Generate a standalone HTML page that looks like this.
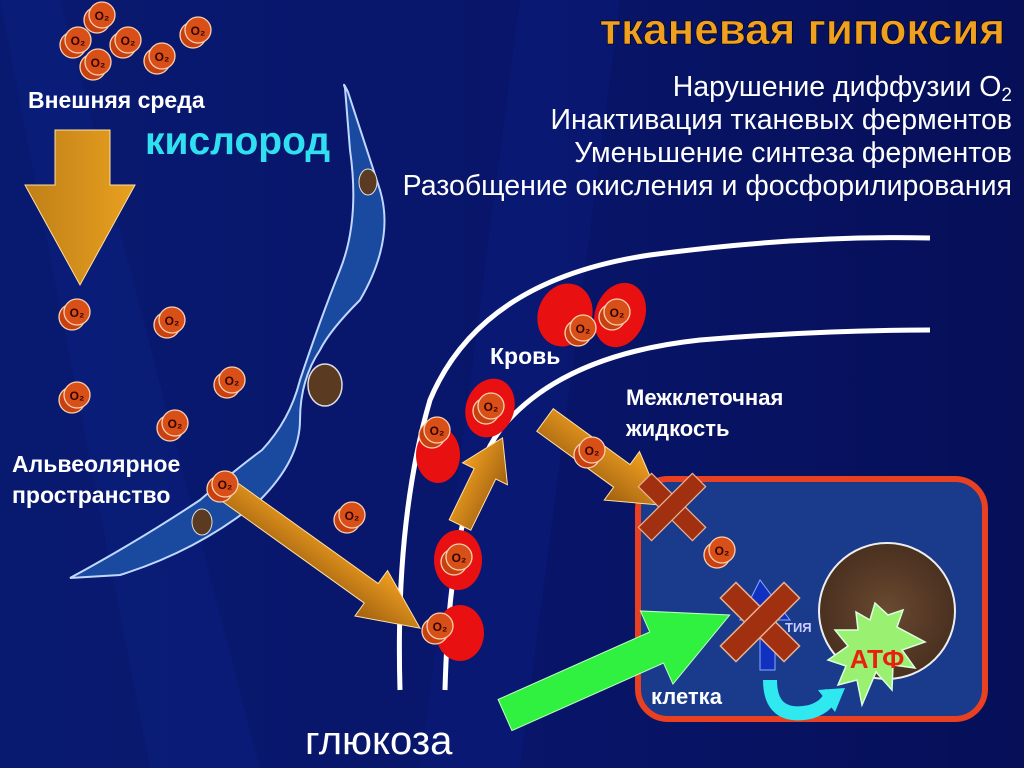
<!DOCTYPE html>
<html><head><meta charset="utf-8"><style>
html,body{margin:0;padding:0;width:1024px;height:768px;overflow:hidden;background:#05105a}
svg{display:block}
text{font-family:"Liberation Sans",sans-serif}
</style></head><body>
<svg width="1024" height="768" viewBox="0 0 1024 768" xmlns="http://www.w3.org/2000/svg">
<defs>
<linearGradient id="bg" x1="0" y1="0" x2="1" y2="0">
<stop offset="0" stop-color="#081a70"/><stop offset="0.5" stop-color="#08156a"/><stop offset="1" stop-color="#060f58"/></linearGradient>
<linearGradient id="og" x1="0" y1="0" x2="0" y2="1">
<stop offset="0" stop-color="#f0a020"/><stop offset="1" stop-color="#a06010"/></linearGradient>
<linearGradient id="ogx" x1="0" y1="0" x2="1" y2="0">
<stop offset="0" stop-color="#c08018"/><stop offset="1" stop-color="#e8a020"/></linearGradient>
<radialGradient id="mito" cx="0.5" cy="0.5" r="0.5">
<stop offset="0" stop-color="#6a4a30"/><stop offset="1" stop-color="#4a3020"/></radialGradient>
<g id="o2">
<circle cx="-5" cy="5" r="13" fill="#c84010" stroke="#f8d0b0" stroke-width="1.3"/>
<circle cx="0" cy="0" r="13" fill="#d85018" stroke="#f8d0b0" stroke-width="1.3"/>
<text x="0" y="5" font-size="12" font-weight="bold" text-anchor="middle" fill="#300">O₂</text>
</g>
<g id="cross">
<rect x="-45" y="-11" width="90" height="22" fill="#a03010" stroke="#e8b090" stroke-width="1.5"/>
<rect x="-11" y="-45" width="22" height="90" fill="#a03010" stroke="#e8b090" stroke-width="1.5"/>
<rect x="-10" y="-10" width="20" height="20" fill="#a03010"/>
</g>
</defs>
<rect width="1024" height="768" fill="url(#bg)"/>
<path d="M0 0 L60 0 L260 768 L150 768 Z" fill="#0c2288" opacity="0.35"/>
<path d="M520 0 L620 0 L520 768 L420 768 Z" fill="#0c2288" opacity="0.3"/>

<path d="M345 88 Q342 80 348 92 L380 190 Q395 240 360 300 Q330 330 320 350 Q300 380 300 420 Q300 460 260 500 Q200 550 120 575 L70 578 Q140 540 200 500 Q235 470 262 450 Q290 420 300 380 Q320 320 340 270 Q360 220 350 150 Z" fill="#1a4aa0" stroke="#c0d8ff" stroke-width="2"/>
<ellipse cx="368" cy="182" rx="9" ry="13" fill="#5a3a20" stroke="#ddd" stroke-width="1"/>
<ellipse cx="325" cy="385" rx="17" ry="21" fill="#5a3a20" stroke="#ddd" stroke-width="1.5"/>
<ellipse cx="202" cy="522" rx="10" ry="13" fill="#5a3a20" stroke="#ddd" stroke-width="1"/>

<path d="M400 690 Q395 520 430 400 Q480 280 650 255 Q800 235 930 238" fill="none" stroke="#fff" stroke-width="5"/>
<path d="M445 690 Q450 500 500 430 Q560 355 700 340 Q820 330 930 330" fill="none" stroke="#fff" stroke-width="5"/>

<ellipse cx="565" cy="315" rx="27" ry="32" fill="#e81010" transform="rotate(20 565 315)"/>
<ellipse cx="620" cy="315" rx="25" ry="33" fill="#e81010" transform="rotate(20 620 315)"/>
<ellipse cx="490" cy="408" rx="24" ry="30" fill="#e81010" transform="rotate(20 490 408)"/>
<ellipse cx="438" cy="455" rx="22" ry="28" fill="#e81010"/>
<ellipse cx="458" cy="560" rx="24" ry="30" fill="#e81010"/>
<ellipse cx="460" cy="633" rx="24" ry="28" fill="#e81010"/>

<rect x="638" y="479" width="347" height="240" rx="30" fill="#1a3a8c" stroke="#e84020" stroke-width="6"/>
<circle cx="887" cy="611" r="68" fill="url(#mito)" stroke="#eee" stroke-width="2"/>
<polygon points="875,603 888,615 903,610 897,627 925,642 902,650 915,668 893,665 892,690 876,672 862,705 857,680 838,685 846,666 828,660 848,646 835,630 858,630 856,612 870,620" fill="#9af070" stroke="#dfd" stroke-width="1.5"/>
<text x="877" y="668" font-size="26" font-weight="bold" fill="#e82010" text-anchor="middle">АТФ</text>
<polygon points="740,620 760,580 790,620 775,620 775,670 760,670 760,620" fill="#1030c0" stroke="#8af" stroke-width="1"/>
<text x="785" y="632" font-size="13" font-weight="bold" fill="#ccf">ТИЯ</text>
<use href="#cross" transform="translate(760 622) rotate(45)"/>
<path d="M770 680 Q770 720 810 712 Q830 706 832 690" fill="none" stroke="#30e8f0" stroke-width="14"/>
<polygon points="818,690 845,688 835,712" fill="#30e8f0"/>
<text x="651" y="704" font-size="22" font-weight="bold" fill="#fff">клетка</text>

<polygon points="55,130 110,130 110,185 135,185 80,285 25,185 55,185" fill="url(#ogx)" stroke="#ffe0a0" stroke-width="1"/>
<polygon points="0,-12 186,-12 186,-28 246,0 186,28 186,12 0,12" fill="url(#og)" stroke="#ffe0a0" transform="translate(220 485) rotate(35.6)"/>
<polygon points="0,-12 57,-12 57,-25 97,0 57,25 57,12 0,12" fill="url(#og)" stroke="#ffe0a0" transform="translate(460 525) rotate(-64)"/>
<polygon points="0,-14 95,-14 95,-30 145,0 95,30 95,14 0,14" fill="url(#og)" stroke="#ffe0a0" transform="translate(545 420) rotate(36)"/>
<polygon points="0,-17 166,-17 166,-40 246,0 166,40 166,17 0,17" fill="#30f040" stroke="#c0ffc0" transform="translate(505 715) rotate(-24)"/>
<use href="#cross" transform="translate(672 507) rotate(45) scale(0.85)"/>

<use href="#o2" x="102" y="15"/><use href="#o2" x="78" y="40"/><use href="#o2" x="128" y="40"/>
<use href="#o2" x="98" y="62"/><use href="#o2" x="162" y="56"/><use href="#o2" x="198" y="30"/>
<use href="#o2" x="77" y="312"/><use href="#o2" x="172" y="320"/><use href="#o2" x="77" y="395"/>
<use href="#o2" x="232" y="380"/><use href="#o2" x="175" y="423"/><use href="#o2" x="225" y="484"/>
<use href="#o2" x="352" y="515"/><use href="#o2" x="592" y="450"/><use href="#o2" x="722" y="550"/>
<use href="#o2" x="459" y="557"/><use href="#o2" x="440" y="626"/><use href="#o2" x="437" y="430"/>
<use href="#o2" x="491" y="406"/><use href="#o2" x="583" y="328"/><use href="#o2" x="617" y="312"/>

<text x="28" y="108" font-size="23" font-weight="bold" fill="#fff">Внешняя среда</text>
<text x="145" y="154" font-size="39" font-weight="bold" fill="#30e0f0">кислород</text>
<text x="1005" y="44" font-size="44" font-weight="bold" fill="#f0a020" stroke="#000" stroke-width="0.6" text-anchor="end">тканевая гипоксия</text>
<g font-size="28.5" fill="#fff" text-anchor="end">
<text x="1012" y="96">Нарушение диффузии O<tspan font-size="19" dy="5">2</tspan></text>
<text x="1012" y="129">Инактивация тканевых ферментов</text>
<text x="1012" y="162">Уменьшение синтеза ферментов</text>
<text x="1012" y="195">Разобщение окисления и фосфорилирования</text>
</g>
<text x="490" y="364" font-size="23" font-weight="bold" fill="#fff">Кровь</text>
<text x="626" y="405" font-size="22" font-weight="bold" fill="#fff">Межклеточная</text>
<text x="626" y="436" font-size="22" font-weight="bold" fill="#fff">жидкость</text>
<text x="12" y="472" font-size="23" font-weight="bold" fill="#fff">Альвеолярное</text>
<text x="12" y="503" font-size="23" font-weight="bold" fill="#fff">пространство</text>
<text x="305" y="754" font-size="40" fill="#fff">глюкоза</text>
</svg>
</body></html>
